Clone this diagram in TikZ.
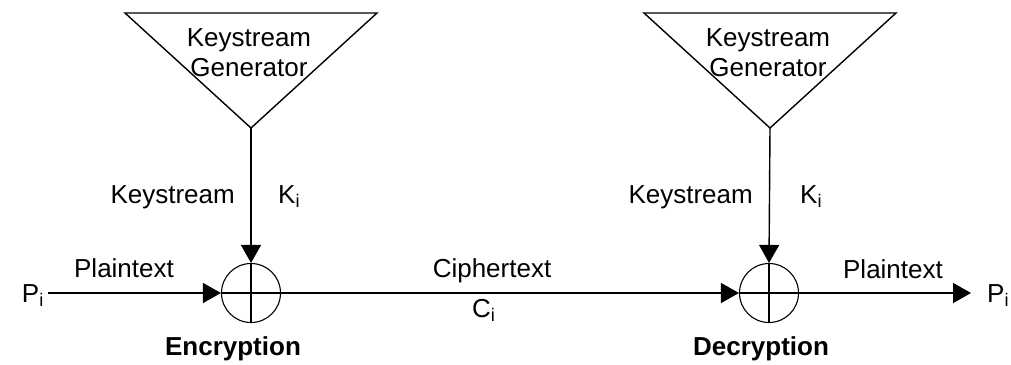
\documentclass[tikz,border=0pt]{standalone}
\usepackage{fontspec}
\setmainfont{Liberation Sans}
\usetikzlibrary{arrows.meta, positioning, shapes.geometric}
\tikzset{
  lbl/.style={inner sep=0pt, anchor=base, font=\fontsize{26}{31}\selectfont},
  title/.style={lbl, font=\fontsize{26}{31}\selectfont\bfseries},
  gen/.style={draw=black, line width=1.4pt, line join=miter},
  xor/.style={draw=black, line width=1.1pt, circle, minimum size=59pt, inner sep=0pt},
  flow/.style={-{Triangle[length=18pt, width=20pt]}, line width=1.4pt},
  wire/.style={line width=1.4pt},
}
\begin{document}
\begin{tikzpicture}[x=1pt, y=-1pt]
\useasboundingbox (0,0) rectangle (1011,364);
% keystream generators
\coordinate (genAl) at (125,13);
\coordinate (genAr) at (377,13);
\coordinate (apexA) at (251,128);
\coordinate (genBl) at (644,13);
\coordinate (genBr) at (896,13);
\coordinate (apexB) at (770,128);
\draw[gen] (genAl) -- (genAr) -- (apexA) -- cycle;
\draw[gen] (genBl) -- (genBr) -- (apexB) -- cycle;
\node[lbl] (genAtop) at (249,46) {Keystream};
\node[lbl] (genAbot) at (249,76) {Generator};
\node[lbl] (genBtop) at (768,46) {Keystream};
\node[lbl] (genBbot) at (768,76) {Generator};
% xor gates
\node[xor] (xorA) at (251,293) {};
\node[xor] (xorB) at (769,293) {};
\draw[wire] (xorA.north) -- (xorA.south);
\draw[wire] (xorB.north) -- (xorB.south);
% end points
\node[lbl, anchor=base east, inner xsep=4pt] (pinL) at (48,302) {P\textsubscript{i}};
\node[lbl, anchor=base west, inner xsep=0pt] (poutR) at (971,302) {\hspace{16pt}P\textsubscript{i}};
% connectors
\draw[flow] (apexA) -- (xorA.north);
\draw[flow] (apexB) -- (xorB.north);
\draw[flow] (pinL.east |- xorA.west) -- (xorA.west);
\draw[wire] (xorA.west) -- (xorA.east);
\draw[flow] (xorA.east) -- (xorB.west);
\draw[wire] (xorB.west) -- (xorB.east);
\draw[flow] (xorB.east) -- (poutR.west |- xorB.east);
% labels
\node[lbl] (ptA) at (124,277) {Plaintext};
\node[lbl, anchor=base east] (ksA) at (235,203) {Keystream};
\node[lbl, anchor=base west] (kA) at (278,203) {K\textsubscript{i}};
\node[lbl, anchor=base east] (ksB) at (753,203) {Keystream};
\node[lbl, anchor=base west] (kB) at (800,203) {K\textsubscript{i}};
\node[lbl] (ct) at (492,277) {Ciphertext};
\node[lbl, anchor=base west] (ci) at (472,317) {C\textsubscript{i}};
\node[lbl] (ptB) at (893,278) {Plaintext};
\node[title] (enc) at (233,355) {Encryption};
\node[title] (dec) at (761,355) {Decryption};
\end{tikzpicture}
\end{document}
